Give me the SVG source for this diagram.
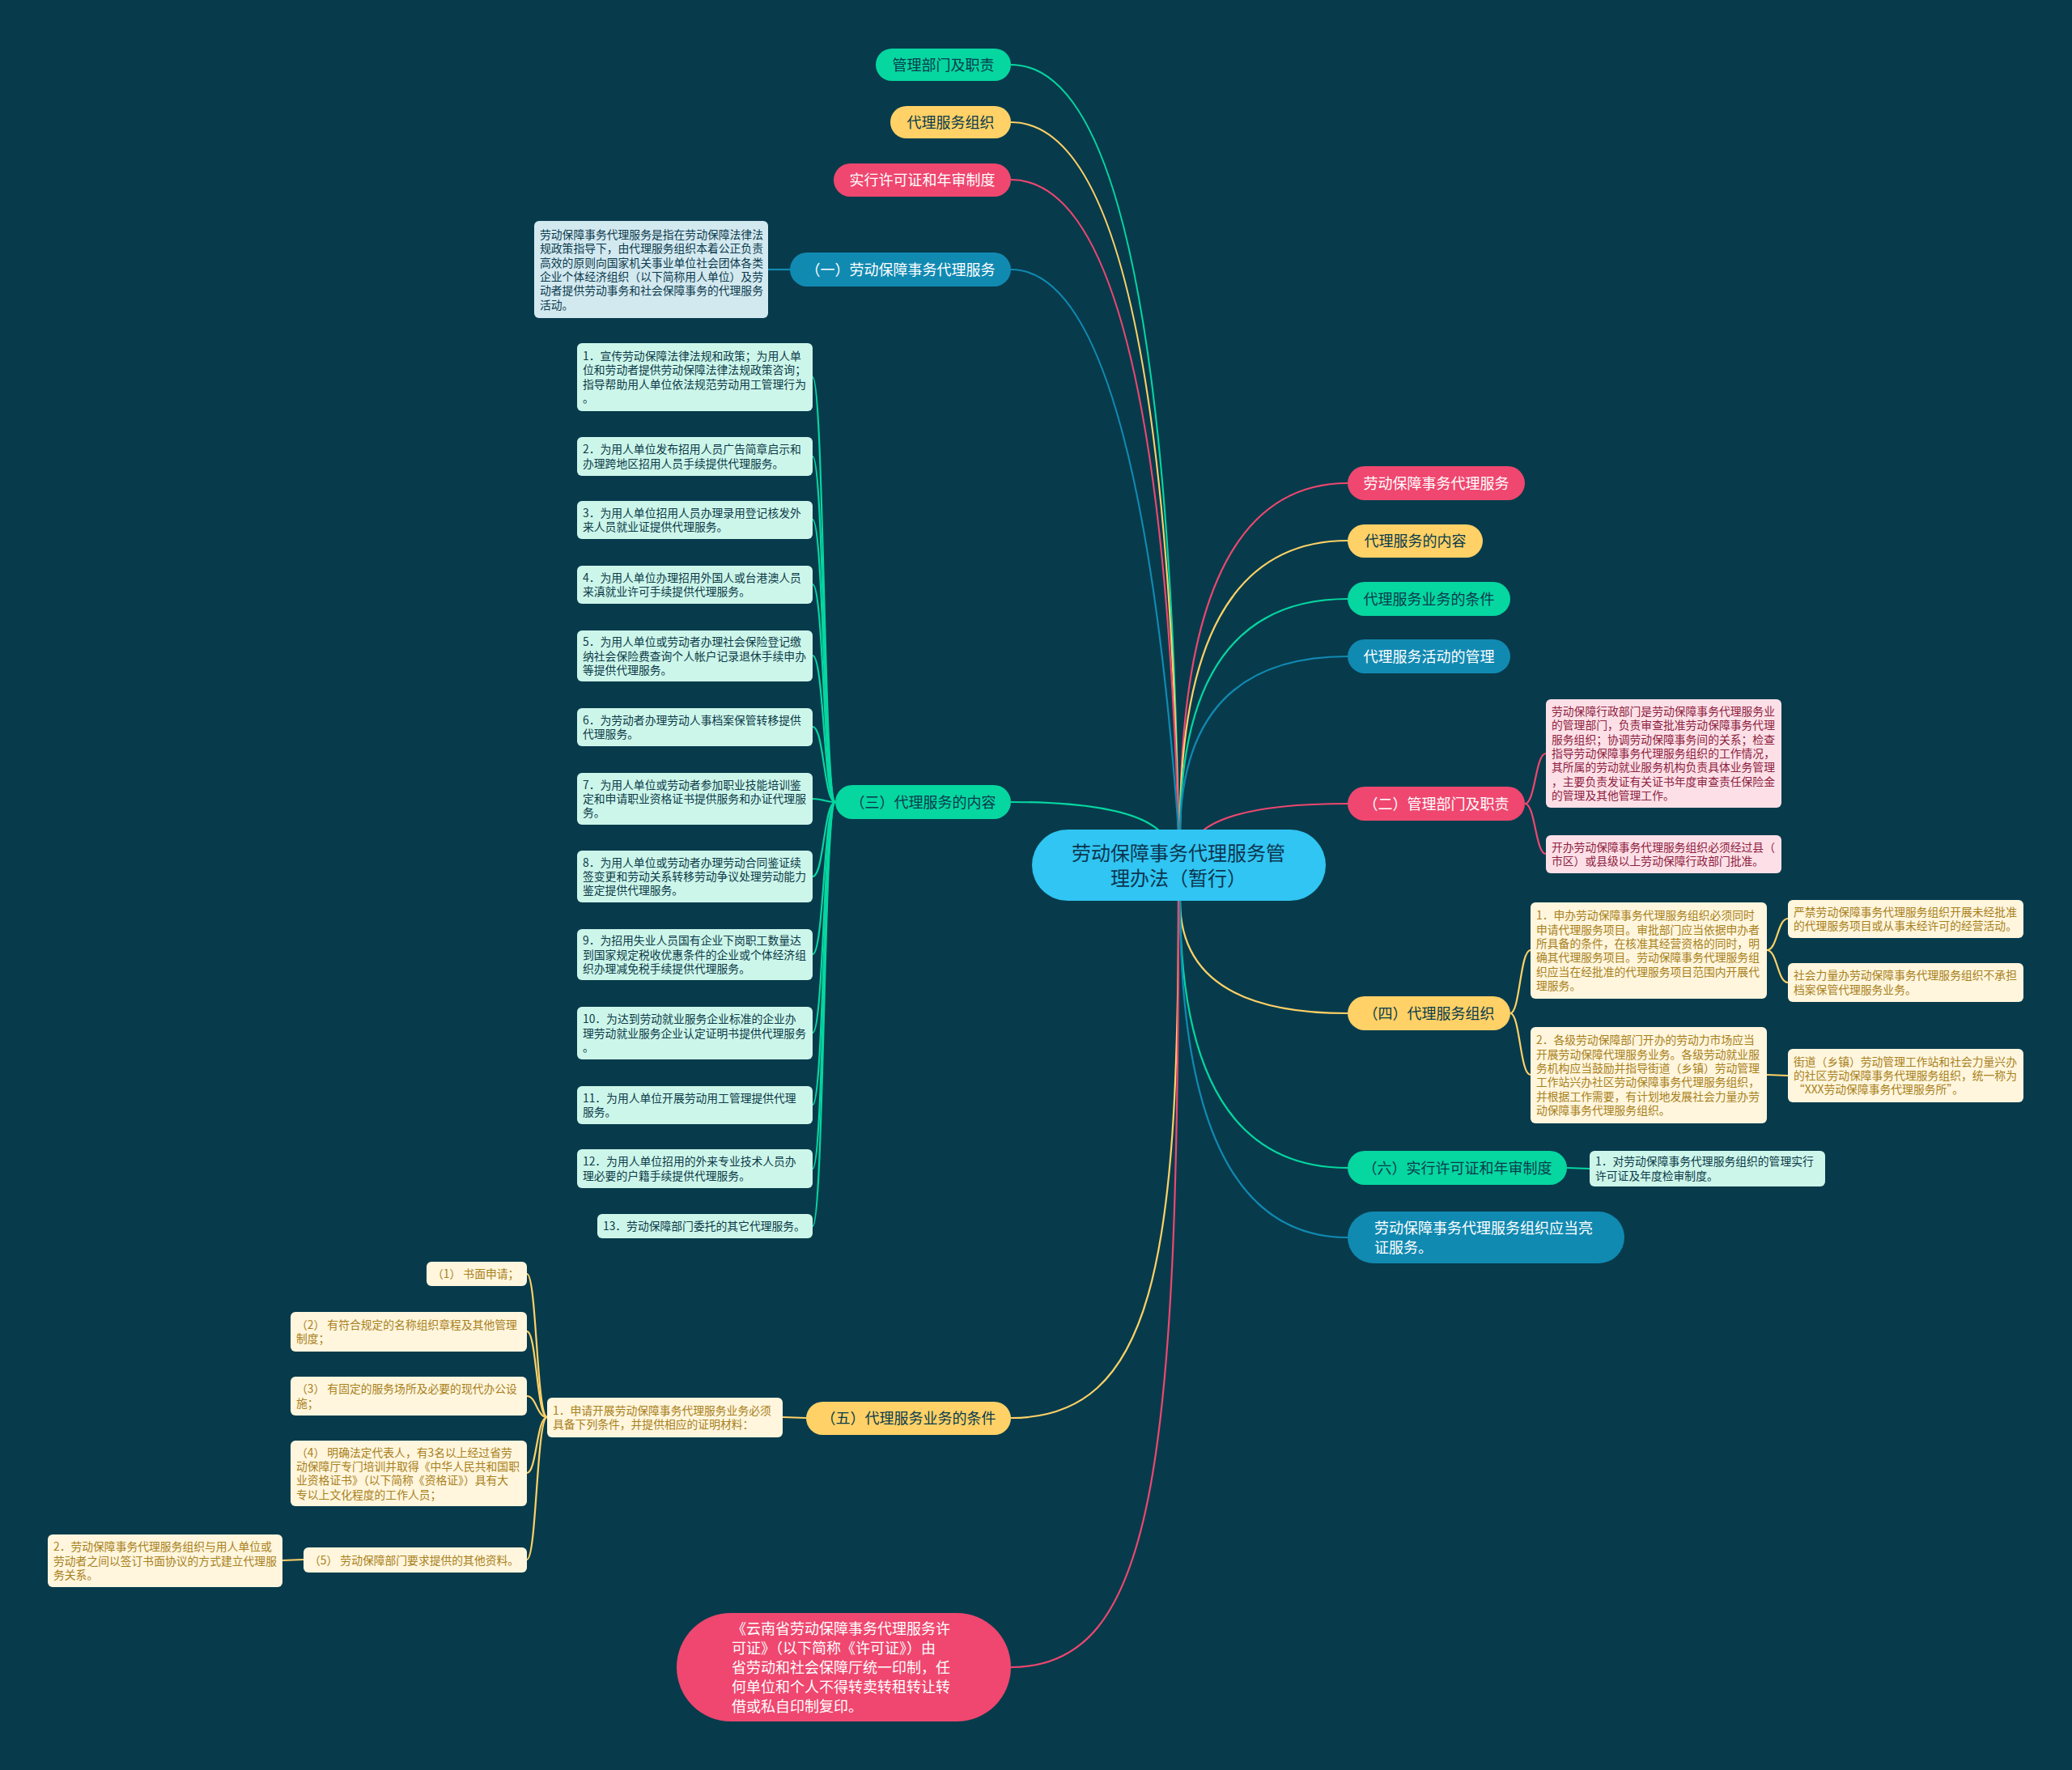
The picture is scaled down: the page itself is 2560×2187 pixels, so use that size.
<svg xmlns="http://www.w3.org/2000/svg" width="2560" height="2187" viewBox="0 0 2560 2187">
<style>
.c{fill:none;stroke-width:2.2}
.cg{stroke:#06d6a0}.cy{stroke:#ffd166}.cp{stroke:#ef476f}.cb{stroke:#118ab2}
.n{font-family:"Noto Sans CJK SC","Noto Sans",sans-serif;font-size:18px;text-anchor:middle}
.dk{fill:#073b4c}.wh{fill:#ffffff}
.d{font-family:"Noto Sans CJK SC","Noto Sans",sans-serif;font-size:13.8px}
.tg{fill:#0b3a48}.ty{fill:#a8801c}.tp{fill:#8d2140}.tb{fill:#0b3a4c}
.fg{fill:#06d6a0}.fy{fill:#ffd166}.fp{fill:#ef476f}.fb{fill:#118ab2}
.bg{fill:#cdf6ea}.by{fill:#fff6dd}.bp{fill:#fde0e7}.bb{fill:#d3e9f0}
</style>
<rect width="2560" height="2187" fill="#073b4c"/>
<g id="connectors">
<path class="c cg" d="M1456 1025 Q1441 80 1249 80"/>
<path class="c cy" d="M1456 1025 Q1438 151 1249 151"/>
<path class="c cp" d="M1456 1025 Q1432 222 1249 222"/>
<path class="c cb" d="M1456 1025 Q1405 333 1249 333"/>
<path class="c cg" d="M1436 1030 Q1400 991 1249 991"/>
<path class="c cy" d="M1456 1113 C1456 1560 1425 1752 1249 1752"/>
<path class="c cp" d="M1456 1113 C1456 1820 1425 2060 1249 2060"/>
<path class="c cp" d="M1458 1025 Q1458 597 1665 597"/>
<path class="c cy" d="M1458 1025 Q1458 668 1665 668"/>
<path class="c cg" d="M1458 1025 Q1460 740 1665 740"/>
<path class="c cb" d="M1458 1025 Q1462 811 1665 811"/>
<path class="c cp" d="M1482 1030 Q1520 993 1665 993"/>
<path class="c cy" d="M1458 1113 Q1458 1252 1665 1252"/>
<path class="c cg" d="M1458 1113 Q1458 1443 1665 1443"/>
<path class="c cb" d="M1458 1113 Q1458 1529 1665 1529"/>
<path class="c cb" d="M976 333 L949 333"/>
<g class="c cg">
<path d="M1032 991 C1018 991 1018 466 1004 466"/>
<path d="M1032 991 C1018 991 1018 564 1004 564"/>
<path d="M1032 991 C1018 991 1018 642 1004 642"/>
<path d="M1032 991 C1018 991 1018 722 1004 722"/>
<path d="M1032 991 C1018 991 1018 810 1004 810"/>
<path d="M1032 991 C1018 991 1018 898 1004 898"/>
<path d="M1032 991 C1018 991 1018 987 1004 987"/>
<path d="M1032 991 C1018 991 1018 1083 1004 1083"/>
<path d="M1032 991 C1018 991 1018 1179 1004 1179"/>
<path d="M1032 991 C1018 991 1018 1276 1004 1276"/>
<path d="M1032 991 C1018 991 1018 1365 1004 1365"/>
<path d="M1032 991 C1018 991 1018 1444 1004 1444"/>
<path d="M1032 991 C1018 991 1018 1515 1004 1515"/>
</g>
<path class="c cy" d="M996 1752 L967 1751"/>
<g class="c cy">
<path d="M676 1751 C663 1751 663 1574 651 1574"/>
<path d="M676 1751 C663 1751 663 1645 651 1645"/>
<path d="M676 1751 C663 1751 663 1725 651 1725"/>
<path d="M676 1751 C663 1751 663 1820 651 1820"/>
<path d="M676 1751 C663 1751 663 1927 651 1927"/>
<path d="M375 1927 L349 1928"/>
</g>
<g class="c cp">
<path d="M1884 993 C1897 993 1897 931 1910 931"/>
<path d="M1884 993 C1897 993 1897 1055 1910 1055"/>
</g>
<g class="c cy">
<path d="M1866 1252 C1878 1252 1878 1174 1891 1174"/>
<path d="M1866 1252 C1878 1252 1878 1328 1891 1328"/>
<path d="M2183 1174 C2196 1174 2196 1135 2209 1135"/>
<path d="M2183 1174 C2196 1174 2196 1214 2209 1214"/>
<path d="M2183 1328 L2209 1329"/>
</g>
<path class="c cg" d="M1936 1443 L1964 1444"/>
</g>

<g id="root">
<rect x="1275" y="1025" width="363" height="88" rx="44" fill="#30c5f2"/>
<text class="n" style="font-size:24px" fill="#0b3550" x="1456" y="1063">劳动保障事务代理服务管</text>
<text class="n" style="font-size:24px" fill="#0b3550" x="1456" y="1094">理办法（暂行）</text>
</g>

<g id="n-guanli"><rect class="fg" x="1082" y="60" width="167" height="40" rx="20"/><text class="n dk" x="1165.5" y="86.5">管理部门及职责</text></g>
<g id="n-zuzhi"><rect class="fy" x="1100" y="131" width="149" height="40" rx="20"/><text class="n dk" x="1174.5" y="157.5">代理服务组织</text></g>
<g id="n-xuke"><rect class="fp" x="1030" y="202" width="219" height="41" rx="20.5"/><text class="n wh" x="1139.5" y="228.5">实行许可证和年审制度</text></g>
<g id="n-1"><rect class="fb" x="976" y="312" width="273" height="42" rx="21"/><text class="n wh" x="1112.5" y="339.5">（一）劳动保障事务代理服务</text></g>
<g id="n-3"><rect class="fg" x="1032" y="970" width="217" height="42" rx="21"/><text class="n dk" x="1140.5" y="997.5">（三）代理服务的内容</text></g>
<g id="n-5"><rect class="fy" x="996" y="1732" width="253" height="41" rx="20.5"/><text class="n dk" x="1122.5" y="1758.5">（五）代理服务业务的条件</text></g>
<g id="n-yunnan"><rect class="fp" x="836" y="1993" width="413" height="134" rx="67"/>
<text class="n wh" style="text-anchor:start" x="904"><tspan x="904" y="2019">《云南省劳动保障事务代理服务许</tspan><tspan x="904" y="2043">可证》（以下简称《许可证》）由</tspan><tspan x="904" y="2067">省劳动和社会保障厅统一印制，任</tspan><tspan x="904" y="2091">何单位和个人不得转卖转租转让转</tspan><tspan x="904" y="2115">借或私自印制复印。</tspan></text></g>

<g id="n-r1"><rect class="fp" x="1665" y="576" width="219" height="42" rx="21"/><text class="n wh" x="1774.5" y="603.5">劳动保障事务代理服务</text></g>
<g id="n-r2"><rect class="fy" x="1665" y="648" width="167" height="41" rx="20.5"/><text class="n dk" x="1748.5" y="674.5">代理服务的内容</text></g>
<g id="n-r3"><rect class="fg" x="1665" y="719" width="201" height="42" rx="21"/><text class="n dk" x="1765.5" y="746.5">代理服务业务的条件</text></g>
<g id="n-r4"><rect class="fb" x="1665" y="790" width="201" height="42" rx="21"/><text class="n wh" x="1765.5" y="817.5">代理服务活动的管理</text></g>
<g id="n-2"><rect class="fp" x="1665" y="972" width="219" height="42" rx="21"/><text class="n wh" x="1774.5" y="999.5">（二）管理部门及职责</text></g>
<g id="n-4"><rect class="fy" x="1665" y="1231" width="201" height="42" rx="21"/><text class="n dk" x="1765.5" y="1258.5">（四）代理服务组织</text></g>
<g id="n-6"><rect class="fg" x="1665" y="1422" width="271" height="42" rx="21"/><text class="n dk" x="1800.5" y="1449.5">（六）实行许可证和年审制度</text></g>
<g id="n-liangzheng"><rect class="fb" x="1665" y="1497" width="342" height="64" rx="32"/>
<text class="n wh" style="text-anchor:start"><tspan x="1698" y="1524">劳动保障事务代理服务组织应当亮</tspan><tspan x="1698" y="1548">证服务。</tspan></text></g>

<g id="d-1"><rect class="bb" x="660" y="273" width="289" height="120" rx="6"/>
<text class="d tb"><tspan x="667" y="295">劳动保障事务代理服务是指在劳动保障法律法</tspan><tspan x="667" dy="17.3">规政策指导下，由代理服务组织本着公正负责</tspan><tspan x="667" dy="17.3">高效的原则向国家机关事业单位社会团体各类</tspan><tspan x="667" dy="17.3">企业个体经济组织（以下简称用人单位）及劳</tspan><tspan x="667" dy="17.3">动者提供劳动事务和社会保障事务的代理服务</tspan><tspan x="667" dy="17.3">活动。</tspan></text></g>

<g id="d-3-1"><rect class="bg" x="713" y="424" width="291" height="84" rx="6"/>
<text class="d tg"><tspan x="720" y="445">1．宣传劳动保障法律法规和政策；为用人单</tspan><tspan x="720" dy="17.3">位和劳动者提供劳动保障法律法规政策咨询；</tspan><tspan x="720" dy="17.3">指导帮助用人单位依法规范劳动用工管理行为</tspan><tspan x="720" dy="17.3">。</tspan></text></g>
<g id="d-3-2"><rect class="bg" x="713" y="540" width="291" height="48" rx="6"/>
<text class="d tg"><tspan x="720" y="560.4">2．为用人单位发布招用人员广告简章启示和</tspan><tspan x="720" dy="17.3">办理跨地区招用人员手续提供代理服务。</tspan></text></g>
<g id="d-3-3"><rect class="bg" x="713" y="619" width="291" height="47" rx="6"/>
<text class="d tg"><tspan x="720" y="638.9">3．为用人单位招用人员办理录用登记核发外</tspan><tspan x="720" dy="17.3">来人员就业证提供代理服务。</tspan></text></g>
<g id="d-3-4"><rect class="bg" x="713" y="699" width="291" height="47" rx="6"/>
<text class="d tg"><tspan x="720" y="718.9">4．为用人单位办理招用外国人或台港澳人员</tspan><tspan x="720" dy="17.3">来滇就业许可手续提供代理服务。</tspan></text></g>
<g id="d-3-5"><rect class="bg" x="713" y="779" width="291" height="63" rx="6"/>
<text class="d tg"><tspan x="720" y="798.2">5．为用人单位或劳动者办理社会保险登记缴</tspan><tspan x="720" dy="17.3">纳社会保险费查询个人帐户记录退休手续申办</tspan><tspan x="720" dy="17.3">等提供代理服务。</tspan></text></g>
<g id="d-3-6"><rect class="bg" x="713" y="875" width="291" height="47" rx="6"/>
<text class="d tg"><tspan x="720" y="894.9">6．为劳动者办理劳动人事档案保管转移提供</tspan><tspan x="720" dy="17.3">代理服务。</tspan></text></g>
<g id="d-3-7"><rect class="bg" x="713" y="955" width="291" height="64" rx="6"/>
<text class="d tg"><tspan x="720" y="974.7">7．为用人单位或劳动者参加职业技能培训鉴</tspan><tspan x="720" dy="17.3">定和申请职业资格证书提供服务和办证代理服</tspan><tspan x="720" dy="17.3">务。</tspan></text></g>
<g id="d-3-8"><rect class="bg" x="713" y="1051" width="291" height="64" rx="6"/>
<text class="d tg"><tspan x="720" y="1070.7">8．为用人单位或劳动者办理劳动合同鉴证续</tspan><tspan x="720" dy="17.3">签变更和劳动关系转移劳动争议处理劳动能力</tspan><tspan x="720" dy="17.3">鉴定提供代理服务。</tspan></text></g>
<g id="d-3-9"><rect class="bg" x="713" y="1148" width="291" height="63" rx="6"/>
<text class="d tg"><tspan x="720" y="1167.2">9．为招用失业人员国有企业下岗职工数量达</tspan><tspan x="720" dy="17.3">到国家规定税收优惠条件的企业或个体经济组</tspan><tspan x="720" dy="17.3">织办理减免税手续提供代理服务。</tspan></text></g>
<g id="d-3-10"><rect class="bg" x="713" y="1244" width="291" height="65" rx="6"/>
<text class="d tg"><tspan x="720" y="1264.2">10．为达到劳动就业服务企业标准的企业办</tspan><tspan x="720" dy="17.3">理劳动就业服务企业认定证明书提供代理服务</tspan><tspan x="720" dy="17.3">。</tspan></text></g>
<g id="d-3-11"><rect class="bg" x="713" y="1342" width="291" height="47" rx="6"/>
<text class="d tg"><tspan x="720" y="1361.9">11．为用人单位开展劳动用工管理提供代理</tspan><tspan x="720" dy="17.3">服务。</tspan></text></g>
<g id="d-3-12"><rect class="bg" x="713" y="1420" width="291" height="48" rx="6"/>
<text class="d tg"><tspan x="720" y="1440.4">12．为用人单位招用的外来专业技术人员办</tspan><tspan x="720" dy="17.3">理必要的户籍手续提供代理服务。</tspan></text></g>
<g id="d-3-13"><rect class="bg" x="738" y="1500" width="266" height="30" rx="6"/>
<text class="d tg" x="745" y="1520">13．劳动保障部门委托的其它代理服务。</text></g>

<g id="d-5-1"><rect class="by" x="676" y="1727" width="291" height="49" rx="6"/>
<text class="d ty"><tspan x="683" y="1747.9">1．申请开展劳动保障事务代理服务业务必须</tspan><tspan x="683" dy="17.3">具备下列条件，并提供相应的证明材料：</tspan></text></g>
<g id="d-5-1-1"><rect class="by" x="527" y="1559" width="124" height="30" rx="6"/>
<text class="d ty" x="534" y="1579">（1） 书面申请；</text></g>
<g id="d-5-1-2"><rect class="by" x="359" y="1621" width="292" height="49" rx="6"/>
<text class="d ty"><tspan x="366" y="1641.9">（2） 有符合规定的名称组织章程及其他管理</tspan><tspan x="366" dy="17.3">制度；</tspan></text></g>
<g id="d-5-1-3"><rect class="by" x="359" y="1701" width="292" height="48" rx="6"/>
<text class="d ty"><tspan x="366" y="1721.4">（3） 有固定的服务场所及必要的现代办公设</tspan><tspan x="366" dy="17.3">施；</tspan></text></g>
<g id="d-5-1-4"><rect class="by" x="359" y="1780" width="292" height="81" rx="6"/>
<text class="d ty"><tspan x="366" y="1799.6">（4） 明确法定代表人，有3名以上经过省劳</tspan><tspan x="366" dy="17.3">动保障厅专门培训并取得《中华人民共和国职</tspan><tspan x="366" dy="17.3">业资格证书》（以下简称《资格证》）具有大</tspan><tspan x="366" dy="17.3">专以上文化程度的工作人员；</tspan></text></g>
<g id="d-5-1-5"><rect class="by" x="375" y="1912" width="276" height="31" rx="6"/>
<text class="d ty" x="382" y="1932.5">（5） 劳动保障部门要求提供的其他资料。</text></g>
<g id="d-5-2"><rect class="by" x="59" y="1896" width="290" height="65" rx="6"/>
<text class="d ty"><tspan x="66" y="1916.2">2．劳动保障事务代理服务组织与用人单位或</tspan><tspan x="66" dy="17.3">劳动者之间以签订书面协议的方式建立代理服</tspan><tspan x="66" dy="17.3">务关系。</tspan></text></g>

<g id="d-2-1"><rect class="bp" x="1910" y="864" width="291" height="134" rx="6"/>
<text class="d tp"><tspan x="1917" y="884.1">劳动保障行政部门是劳动保障事务代理服务业</tspan><tspan x="1917" dy="17.3">的管理部门，负责审查批准劳动保障事务代理</tspan><tspan x="1917" dy="17.3">服务组织；协调劳动保障事务间的关系；检查</tspan><tspan x="1917" dy="17.3">指导劳动保障事务代理服务组织的工作情况，</tspan><tspan x="1917" dy="17.3">其所属的劳动就业服务机构负责具体业务管理</tspan><tspan x="1917" dy="17.3">，主要负责发证有关证书年度审查责任保险金</tspan><tspan x="1917" dy="17.3">的管理及其他管理工作。</tspan></text></g>
<g id="d-2-2"><rect class="bp" x="1910" y="1032" width="291" height="47" rx="6"/>
<text class="d tp"><tspan x="1917" y="1051.9">开办劳动保障事务代理服务组织必须经过县（</tspan><tspan x="1917" dy="17.3">市区）或县级以上劳动保障行政部门批准。</tspan></text></g>

<g id="d-4-1"><rect class="by" x="1891" y="1115" width="292" height="119" rx="6"/>
<text class="d ty"><tspan x="1898" y="1136.3">1．申办劳动保障事务代理服务组织必须同时</tspan><tspan x="1898" dy="17.3">申请代理服务项目。审批部门应当依据申办者</tspan><tspan x="1898" dy="17.3">所具备的条件，在核准其经营资格的同时，明</tspan><tspan x="1898" dy="17.3">确其代理服务项目。劳动保障事务代理服务组</tspan><tspan x="1898" dy="17.3">织应当在经批准的代理服务项目范围内开展代</tspan><tspan x="1898" dy="17.3">理服务。</tspan></text></g>
<g id="d-4-2"><rect class="by" x="1891" y="1269" width="292" height="119" rx="6"/>
<text class="d ty"><tspan x="1898" y="1290.3">2．各级劳动保障部门开办的劳动力市场应当</tspan><tspan x="1898" dy="17.3">开展劳动保障代理服务业务。各级劳动就业服</tspan><tspan x="1898" dy="17.3">务机构应当鼓励并指导街道（乡镇）劳动管理</tspan><tspan x="1898" dy="17.3">工作站兴办社区劳动保障事务代理服务组织，</tspan><tspan x="1898" dy="17.3">并根据工作需要，有计划地发展社会力量办劳</tspan><tspan x="1898" dy="17.3">动保障事务代理服务组织。</tspan></text></g>
<g id="d-4-1-1"><rect class="by" x="2209" y="1112" width="291" height="47" rx="6"/>
<text class="d ty"><tspan x="2216" y="1131.9">严禁劳动保障事务代理服务组织开展未经批准</tspan><tspan x="2216" dy="17.3">的代理服务项目或从事未经许可的经营活动。</tspan></text></g>
<g id="d-4-1-2"><rect class="by" x="2209" y="1190" width="291" height="48" rx="6"/>
<text class="d ty"><tspan x="2216" y="1210.4">社会力量办劳动保障事务代理服务组织不承担</tspan><tspan x="2216" dy="17.3">档案保管代理服务业务。</tspan></text></g>
<g id="d-4-2-1"><rect class="by" x="2209" y="1296" width="291" height="66" rx="6"/>
<text class="d ty"><tspan x="2216" y="1316.7">街道（乡镇）劳动管理工作站和社会力量兴办</tspan><tspan x="2216" dy="17.3">的社区劳动保障事务代理服务组织，统一称为</tspan><tspan x="2216" dy="17.3">“XXX劳动保障事务代理服务所”。</tspan></text></g>

<g id="d-6-1"><rect class="bg" x="1964" y="1422" width="291" height="44" rx="6"/>
<text class="d tg"><tspan x="1971" y="1440.4">1．对劳动保障事务代理服务组织的管理实行</tspan><tspan x="1971" dy="17.3">许可证及年度检审制度。</tspan></text></g>
</svg>
